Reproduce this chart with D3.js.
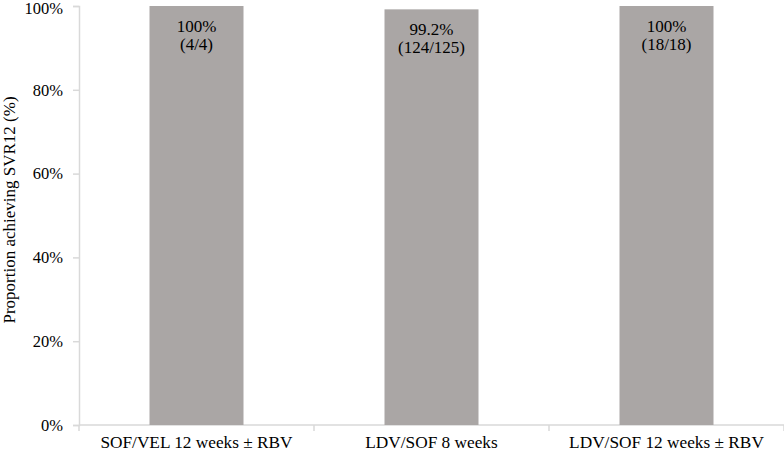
<!DOCTYPE html>
<html>
<head>
<meta charset="utf-8">
<script src="https://cdn.jsdelivr.net/npm/d3@7"></script>
<style>
  body { margin: 0; background: #fff; }
  svg text { font-family: "Liberation Serif", "Times New Roman", serif; fill: #000; }
</style>
</head>
<body>
<script>
//chart data
var categories = ["SOF/VEL 12 weeks \u00b1 RBV", "LDV/SOF 8 weeks", "LDV/SOF 12 weeks \u00b1 RBV"];
var values = [100, 99.2, 100];
var pctLabels = ["100%", "99.2%", "100%"];
var countLabels = ["(4/4)", "(124/125)", "(18/18)"];
var yTicks = [0, 20, 40, 60, 80, 100];

window.onload = drawChart();

function drawChart(){
    var width = 784,
        height = 451;
    var margin = {top: 6, right: 0, bottom: 26, left: 79};

    var svg = d3.select("body")
        .append("svg")
        .attr("width", width)
        .attr("height", height);

    var x = d3.scaleBand()
        .domain(categories)
        .range([margin.left, width - margin.right])
        .paddingInner(0.6)
        .paddingOuter(0.3);

    var y = d3.scaleLinear()
        .domain([0, 100])
        .range([height - margin.bottom, margin.top]);

    var axisColor = "#d9d9d9";

    //y axis
    var yAxis = svg.append("g")
        .attr("transform", "translate(" + margin.left + ",0)")
        .call(d3.axisLeft(y).tickValues(yTicks).tickSize(6).tickPadding(10)
            .tickFormat(function(d){ return d + "%"; }));
    yAxis.select(".domain").attr("stroke", axisColor).attr("stroke-width", 1.5);
    yAxis.selectAll(".tick line").attr("stroke", axisColor).attr("stroke-width", 1.5);
    yAxis.selectAll(".tick text").attr("font-size", "16.5px").attr("font-family", "Liberation Serif")
        .attr("dy", function(d){ return d === 100 ? "0.45em" : "0.32em"; });

    //x axis (baseline with boundary ticks)
    var base = y(0);
    svg.append("line")
        .attr("x1", margin.left).attr("x2", width)
        .attr("y1", base).attr("y2", base)
        .attr("stroke", axisColor).attr("stroke-width", 1.5);
    var step = x.step();
    var bounds = d3.range(categories.length + 1).map(function(i){
        return margin.left + i * step;
    });
    svg.selectAll(".xtick")
        .data(bounds)
        .enter()
        .append("line")
        .attr("class", "xtick")
        .attr("x1", function(d){ return d; })
        .attr("x2", function(d){ return d; })
        .attr("y1", base)
        .attr("y2", base + 6)
        .attr("stroke", axisColor)
        .attr("stroke-width", 1.5);

    //bars
    svg.selectAll(".bar")
        .data(values)
        .enter()
        .append("rect")
        .attr("class", "bar")
        .attr("x", function(d, i){ return x(categories[i]); })
        .attr("width", x.bandwidth())
        .attr("y", function(d){ return y(d); })
        .attr("height", function(d){ return base - y(d); })
        .attr("fill", "#aaa6a5");

    //bar labels
    svg.selectAll(".pct")
        .data(values)
        .enter()
        .append("text")
        .attr("class", "pct")
        .attr("x", function(d, i){ return x(categories[i]) + x.bandwidth() / 2; })
        .attr("y", function(d){ return y(d) + 26; })
        .attr("text-anchor", "middle")
        .attr("font-size", "17px")
        .text(function(d, i){ return pctLabels[i]; });

    svg.selectAll(".cnt")
        .data(values)
        .enter()
        .append("text")
        .attr("class", "cnt")
        .attr("x", function(d, i){ return x(categories[i]) + x.bandwidth() / 2; })
        .attr("y", function(d){ return y(d) + 44; })
        .attr("text-anchor", "middle")
        .attr("font-size", "17px")
        .text(function(d, i){ return countLabels[i]; });

    //category labels
    svg.selectAll(".cat")
        .data(categories)
        .enter()
        .append("text")
        .attr("class", "cat")
        .attr("x", function(d){ return x(d) + x.bandwidth() / 2; })
        .attr("y", base + 23)
        .attr("text-anchor", "middle")
        .attr("font-size", "17.3px")
        .text(function(d){ return d; });

    //y axis title
    svg.append("text")
        .attr("transform", "translate(15,210) rotate(-90)")
        .attr("text-anchor", "middle")
        .attr("font-size", "17px")
        .text("Proportion achieving SVR12 (%)");
};
</script>
</body>
</html>
